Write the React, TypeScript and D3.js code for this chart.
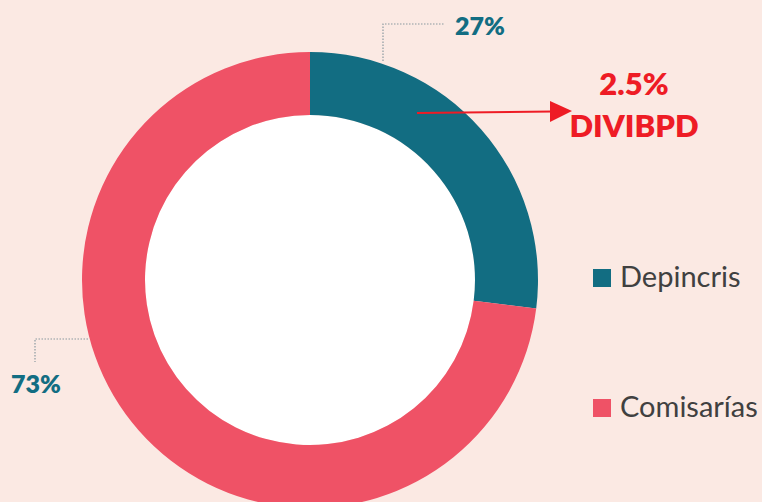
import React, { useEffect, useRef } from 'react';
import * as d3 from 'd3';

// share of cases by unit
const categories = ['Depincris', 'Comisarías'];
const values = [27, 73];
const valueLabels = ['27%', '73%'];
const colors = ['#126d82', '#ef5266'];
const calloutValue = '2.5%';
const calloutName = 'DIVIBPD';

const App = () => {
  const svgRef = useRef<SVGSVGElement>(null);

  useEffect(() => {
    const svg = d3.select(svgRef.current);
    svg.selectAll('*').remove();

    const width = 762;
    const height = 502;
    const cx = 310;
    const cy = 280;
    const outer = 228;
    const inner = 165;
    const font = 'Lato, "Open Sans", sans-serif';

    svg.append('rect').attr('width', width).attr('height', height).attr('fill', '#fbe9e3');

    const pie = d3.pie<number>().sort(null).value((d) => d);
    const arc = d3.arc<d3.PieArcDatum<number>>().innerRadius(inner).outerRadius(outer);
    const arcs = pie(values);

    const g = svg.append('g').attr('transform', `translate(${cx},${cy})`);
    g.append('circle').attr('r', inner).attr('fill', '#ffffff');
    g.selectAll('path')
      .data(arcs)
      .join('path')
      .attr('d', arc)
      .attr('fill', (d, i) => colors[i]);

    // leader lines + value labels
    const leader = svg.append('g')
      .attr('fill', 'none')
      .attr('stroke', '#8a9aa0')
      .attr('stroke-width', 1.2)
      .attr('stroke-dasharray', '1.5,1.5');
    leader.append('path').attr('d', 'M383,61 V24 H445');
    leader.append('path').attr('d', 'M88,339 H35 V362');

    svg.append('text')
      .attr('x', 455).attr('y', 35)
      .attr('font-family', font).attr('font-weight', 800).attr('font-size', 25)
      .attr('fill', colors[0])
      .text(valueLabels[0]);
    svg.append('text')
      .attr('x', 11).attr('y', 393)
      .attr('font-family', font).attr('font-weight', 800).attr('font-size', 25)
      .attr('fill', colors[0])
      .text(valueLabels[1]);

    // red callout arrow
    svg.append('line')
      .attr('x1', 417).attr('y1', 113).attr('x2', 553).attr('y2', 111.5)
      .attr('stroke', '#ee1c25').attr('stroke-width', 2);
    svg.append('path')
      .attr('d', 'M550,101 L572,111 L550,122 Z')
      .attr('fill', '#ee1c25');
    svg.append('text')
      .attr('x', 634).attr('y', 95)
      .attr('text-anchor', 'middle')
      .attr('font-family', font).attr('font-weight', 800).attr('font-size', 31)
      .attr('fill', '#ee1c25')
      .text(calloutValue);
    svg.append('text')
      .attr('x', 634).attr('y', 137)
      .attr('text-anchor', 'middle')
      .attr('font-family', font).attr('font-weight', 800).attr('font-size', 31)
      .attr('fill', '#ee1c25')
      .text(calloutName);

    // legend
    const legend = svg.append('g')
      .selectAll('g')
      .data(categories)
      .join('g')
      .attr('transform', (d, i) => `translate(593,${269 + i * 130})`);
    legend.append('rect')
      .attr('width', 18).attr('height', 18)
      .attr('fill', (d, i) => colors[i]);
    legend.append('text')
      .attr('x', 27).attr('y', 18)
      .attr('font-family', font).attr('font-size', 29)
      .attr('fill', '#404040')
      .text((d) => d);
  }, []);

  return (
    <svg
      ref={svgRef}
      width={762}
      height={502}
      style={{ position: 'absolute', left: 0, top: 0, display: 'block' }}
    />
  );
};

export default App;
